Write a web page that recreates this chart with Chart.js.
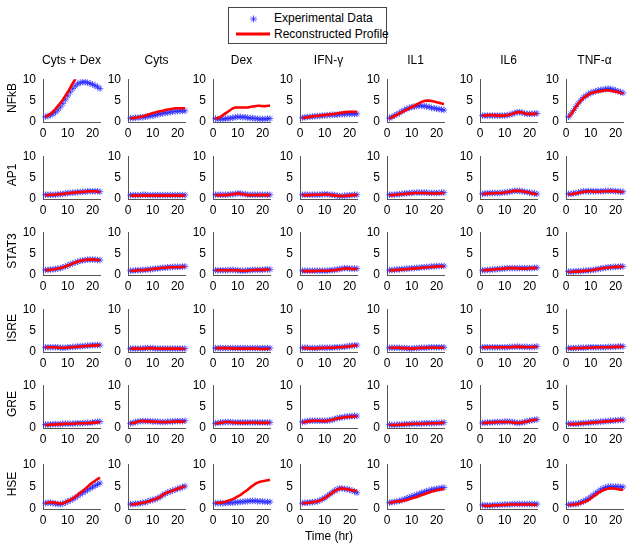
<!DOCTYPE html>
<html>
<head>
<meta charset="utf-8">
<script src="https://cdn.jsdelivr.net/npm/chart.js@4.4.0/dist/chart.umd.min.js"></script>
<style>
  body { margin: 0; background: #fff; font-family: "Liberation Sans", Arial, sans-serif; }
  #fig { position: relative; width: 634px; height: 550px; }
  #fig canvas { position: absolute; }
  .lbl { position: absolute; font-size: 12px; color: #000; white-space: nowrap; }
  .title { transform: translate(-50%, -50%); }
  .rowlbl { transform: translate(-50%, -50%) rotate(-90deg); }
  #legend { position: absolute; left: 228px; top: 7px; width: 157px; height: 35px; border: 1px solid #444; background: #fff; }
</style>
</head>
<body>
<div id="fig">
  <div id="legend">
    <svg width="50" height="35" style="position:absolute;left:0;top:0">
      <g stroke="rgba(30,30,255,0.75)" stroke-width="1">
        <line x1="21" y1="11" x2="28" y2="11"/><line x1="24.5" y1="7.5" x2="24.5" y2="14.5"/>
        <line x1="22" y1="8.5" x2="27" y2="13.5"/><line x1="27" y1="8.5" x2="22" y2="13.5"/>
      </g>
      <line x1="7" y1="26" x2="41" y2="26" stroke="#ff0000" stroke-width="3"/>
    </svg>
    <div class="lbl" style="left:45px;top:3px">Experimental Data</div>
    <div class="lbl" style="left:45px;top:19px">Reconstructed Profile</div>
  </div>
</div>
<script>
// time points (hr)
var hours = [1,2,3,4,5,6,7,8,9,10,11,12,13,14,15,16,17,18,19,20,21,22,23];
var conditions = ['Cyts + Dex', 'Cyts', 'Dex', 'IFN-\u03b3', 'IL1', 'IL6', 'TNF-\u03b1'];
var readouts = ['NFkB', 'AP1', 'STAT3', 'ISRE', 'GRE', 'HSE'];
var xTicks = [0, 10, 20];
var yTicks = [0, 5, 10];

// experimental data, one row per condition
var nfkbExp = [
  [1.2,1.4,1.6,1.9,2.3,2.8,3.5,4.3,5.2,6.1,7.0,7.8,8.4,8.9,9.2,9.3,9.3,9.2,9.0,8.8,8.5,8.2,7.8],
  [0.9,0.9,1.0,1.0,1.1,1.1,1.2,1.3,1.4,1.5,1.6,1.8,1.9,2.0,2.1,2.2,2.3,2.4,2.5,2.5,2.6,2.6,2.6],
  [0.8,0.7,0.7,0.7,0.8,0.8,0.9,1.0,1.1,1.2,1.2,1.1,1.1,1.0,0.9,0.9,0.8,0.8,0.7,0.7,0.7,0.8,0.8],
  [1.0,1.1,1.2,1.2,1.3,1.3,1.4,1.4,1.5,1.5,1.6,1.6,1.7,1.7,1.7,1.8,1.8,1.8,1.9,1.9,1.9,1.9,1.9],
  [0.9,1.2,1.5,1.8,2.1,2.5,2.8,3.1,3.3,3.5,3.6,3.7,3.8,3.8,3.7,3.6,3.5,3.3,3.2,3.1,3.0,2.9,2.8],
  [1.5,1.5,1.5,1.5,1.5,1.5,1.5,1.5,1.5,1.5,1.6,1.7,1.9,2.1,2.3,2.3,2.2,2.0,1.9,1.9,1.9,2.0,2.0],
  [1.2,1.9,2.7,3.6,4.4,5.1,5.7,6.1,6.5,6.8,7.0,7.2,7.4,7.5,7.6,7.7,7.8,7.7,7.6,7.4,7.2,7.0,6.8]
];
var nfkbRec = [
  [1.2,1.5,1.9,2.4,3.0,3.7,4.4,5.2,6.1,7.0,8.0,9.0,10.0,11.0,null,null,null,null,null,null,null,null,null],
  [0.8,0.9,1.0,1.1,1.2,1.3,1.5,1.7,1.9,2.1,2.2,2.4,2.5,2.6,2.8,2.9,3.0,3.1,3.2,3.2,3.2,3.2,3.2],
  [0.8,0.9,1.2,1.6,2.0,2.4,2.8,3.2,3.4,3.4,3.4,3.4,3.4,3.4,3.5,3.6,3.7,3.8,3.8,3.7,3.7,3.8,3.8],
  [0.9,1.0,1.1,1.2,1.3,1.4,1.4,1.5,1.6,1.6,1.7,1.8,1.8,1.9,2.0,2.1,2.2,2.3,2.3,2.4,2.4,2.4,2.3],
  [0.8,1.1,1.4,1.7,2.0,2.3,2.6,2.9,3.2,3.5,3.8,4.1,4.4,4.7,4.9,5.0,5.0,4.9,4.8,4.6,4.5,4.3,4.2],
  [1.5,1.5,1.6,1.6,1.6,1.6,1.5,1.5,1.5,1.5,1.6,1.7,1.9,2.1,2.3,2.3,2.2,2.0,1.9,1.9,1.9,1.9,1.9],
  [1.1,1.8,2.6,3.5,4.3,5.0,5.6,6.0,6.4,6.7,6.9,7.0,7.1,7.2,7.3,7.4,7.4,7.3,7.2,7.1,7.0,6.8,6.6]
];
var ap1Exp = [
  [1.0,1.0,1.0,1.0,1.0,1.1,1.1,1.2,1.3,1.4,1.4,1.5,1.5,1.6,1.6,1.7,1.7,1.8,1.8,1.8,1.8,1.8,1.7],
  [0.9,0.9,0.9,0.9,0.9,1.0,1.0,0.9,0.9,0.9,0.9,0.9,0.9,0.9,0.9,0.9,0.9,0.9,0.9,0.9,0.9,0.9,0.9],
  [1.0,1.0,1.0,1.0,1.0,1.0,1.1,1.1,1.2,1.3,1.3,1.2,1.1,1.0,1.0,1.0,1.0,1.0,1.0,1.0,1.0,1.0,1.0],
  [1.0,1.0,1.0,1.0,1.0,1.0,1.0,1.0,1.1,1.1,1.1,1.0,1.0,0.9,0.8,0.7,0.7,0.8,0.8,0.9,0.9,1.0,1.0],
  [1.0,1.0,1.0,1.1,1.1,1.2,1.3,1.3,1.4,1.4,1.5,1.5,1.5,1.5,1.5,1.5,1.4,1.4,1.4,1.4,1.4,1.5,1.5],
  [1.2,1.3,1.3,1.4,1.4,1.4,1.4,1.4,1.5,1.5,1.6,1.7,1.8,1.9,1.9,1.9,1.8,1.7,1.6,1.5,1.4,1.3,1.2],
  [1.2,1.2,1.3,1.4,1.5,1.7,1.8,1.8,1.8,1.8,1.8,1.8,1.8,1.8,1.8,1.9,1.9,1.9,1.9,1.8,1.8,1.7,1.7]
];
var ap1Rec = [
  [0.9,0.9,1.0,1.0,1.0,1.1,1.1,1.2,1.3,1.3,1.4,1.5,1.5,1.6,1.6,1.7,1.7,1.8,1.8,1.8,1.8,1.7,1.7],
  [0.8,0.8,0.8,0.8,0.8,0.8,0.8,0.8,0.8,0.8,0.8,0.8,0.8,0.8,0.8,0.8,0.8,0.8,0.8,0.8,0.8,0.8,0.8],
  [0.9,0.9,0.9,0.9,0.9,1.0,1.0,1.1,1.2,1.3,1.2,1.1,1.0,0.9,0.9,0.9,0.9,0.9,0.9,0.9,0.9,0.9,0.9],
  [0.9,0.9,0.9,0.9,1.0,1.0,1.0,1.0,1.0,1.1,1.0,1.0,0.9,0.8,0.8,0.7,0.7,0.7,0.8,0.8,0.9,0.9,1.0],
  [0.9,0.9,1.0,1.0,1.1,1.1,1.2,1.2,1.3,1.3,1.4,1.4,1.4,1.4,1.4,1.4,1.3,1.3,1.3,1.3,1.3,1.4,1.4],
  [1.1,1.2,1.3,1.3,1.3,1.4,1.4,1.4,1.4,1.5,1.6,1.7,1.8,1.9,1.9,1.9,1.8,1.7,1.6,1.5,1.3,1.2,1.1],
  [1.1,1.1,1.2,1.3,1.4,1.6,1.7,1.7,1.8,1.8,1.7,1.7,1.7,1.7,1.8,1.8,1.8,1.9,1.8,1.8,1.7,1.7,1.6]
];
var stat3Exp = [
  [1.2,1.2,1.3,1.3,1.4,1.5,1.6,1.8,2.0,2.2,2.5,2.7,2.9,3.1,3.3,3.4,3.5,3.6,3.6,3.6,3.6,3.5,3.5],
  [1.0,1.0,1.1,1.1,1.1,1.2,1.2,1.3,1.3,1.4,1.5,1.5,1.6,1.7,1.7,1.8,1.8,1.9,1.9,1.9,1.9,2.0,2.0],
  [1.1,1.1,1.1,1.1,1.1,1.1,1.2,1.2,1.1,1.1,1.0,1.0,1.0,1.1,1.1,1.2,1.2,1.2,1.2,1.2,1.3,1.3,1.3],
  [1.0,1.0,1.0,1.0,1.0,1.0,1.0,1.0,1.0,1.0,1.0,1.1,1.1,1.2,1.3,1.4,1.5,1.6,1.6,1.5,1.5,1.5,1.5],
  [1.1,1.2,1.2,1.3,1.3,1.4,1.4,1.5,1.5,1.6,1.6,1.7,1.7,1.8,1.8,1.9,1.9,2.0,2.0,2.1,2.1,2.1,2.1],
  [1.1,1.1,1.2,1.2,1.3,1.3,1.4,1.4,1.5,1.5,1.6,1.6,1.6,1.6,1.6,1.6,1.6,1.6,1.6,1.6,1.6,1.7,1.7],
  [0.8,0.8,0.8,0.9,0.9,0.9,1.0,1.0,1.1,1.1,1.2,1.3,1.4,1.5,1.6,1.7,1.8,1.8,1.9,1.9,1.9,2.0,2.0]
];
var stat3Rec = [
  [1.1,1.2,1.2,1.3,1.4,1.5,1.6,1.8,2.0,2.2,2.4,2.7,2.9,3.1,3.3,3.4,3.5,3.6,3.6,3.6,3.6,3.5,3.5],
  [1.0,1.0,1.0,1.1,1.1,1.1,1.2,1.2,1.3,1.4,1.5,1.5,1.6,1.7,1.7,1.8,1.8,1.8,1.8,1.8,1.8,1.9,1.9],
  [1.1,1.1,1.1,1.1,1.1,1.1,1.1,1.1,1.1,1.1,1.0,1.0,1.0,1.0,1.1,1.1,1.2,1.2,1.2,1.2,1.2,1.3,1.3],
  [0.9,0.9,0.9,0.9,0.9,0.9,1.0,1.0,1.0,1.0,1.0,1.0,1.1,1.1,1.2,1.3,1.4,1.5,1.5,1.5,1.4,1.4,1.4],
  [1.0,1.1,1.1,1.2,1.2,1.3,1.3,1.4,1.4,1.5,1.5,1.6,1.6,1.7,1.7,1.8,1.8,1.9,1.9,2.0,2.0,2.0,2.0],
  [1.1,1.1,1.2,1.2,1.3,1.3,1.4,1.4,1.5,1.5,1.6,1.6,1.6,1.6,1.6,1.5,1.5,1.5,1.5,1.6,1.6,1.6,1.7],
  [0.7,0.7,0.8,0.8,0.8,0.9,0.9,1.0,1.0,1.1,1.2,1.3,1.4,1.5,1.6,1.7,1.7,1.8,1.8,1.9,1.9,1.9,1.9]
];
var isreExp = [
  [1.1,1.1,1.1,1.1,1.1,1.1,1.0,1.0,1.0,1.1,1.1,1.2,1.2,1.3,1.3,1.4,1.4,1.5,1.5,1.6,1.6,1.6,1.6],
  [0.8,0.8,0.8,0.8,0.8,0.8,0.9,0.9,0.9,0.9,0.8,0.8,0.8,0.8,0.8,0.8,0.8,0.8,0.8,0.8,0.8,0.8,0.8],
  [0.9,0.9,0.9,0.9,0.9,0.9,0.9,0.9,0.9,0.9,0.9,0.9,0.9,0.9,0.9,0.9,0.9,0.9,0.9,0.9,0.9,0.9,0.9],
  [1.0,1.0,1.0,0.9,0.9,0.9,0.9,1.0,1.0,1.0,1.0,1.0,1.0,1.1,1.1,1.1,1.2,1.2,1.3,1.4,1.5,1.5,1.6],
  [1.0,1.0,1.0,1.0,1.0,0.9,0.9,0.9,0.8,0.8,0.9,0.9,1.0,1.0,1.0,1.0,1.1,1.1,1.1,1.1,1.1,1.1,1.1],
  [1.1,1.1,1.1,1.1,1.1,1.1,1.1,1.1,1.1,1.1,1.1,1.2,1.2,1.2,1.3,1.2,1.2,1.2,1.2,1.1,1.2,1.2,1.3],
  [0.9,0.9,0.9,0.9,1.0,1.0,1.0,1.0,1.1,1.1,1.1,1.1,1.1,1.1,1.1,1.1,1.2,1.2,1.2,1.2,1.3,1.3,1.3]
];
var isreRec = [
  [1.0,1.1,1.1,1.1,1.1,1.0,1.0,1.0,1.0,1.0,1.1,1.1,1.2,1.2,1.3,1.3,1.4,1.4,1.5,1.5,1.5,1.6,1.6],
  [0.8,0.8,0.8,0.8,0.8,0.8,0.8,0.9,0.9,0.9,0.8,0.8,0.8,0.8,0.8,0.8,0.8,0.8,0.8,0.8,0.8,0.7,0.7],
  [0.9,0.9,0.9,0.9,0.9,0.9,0.9,0.8,0.8,0.8,0.8,0.8,0.8,0.8,0.8,0.8,0.8,0.8,0.7,0.7,0.7,0.7,0.7],
  [0.9,0.9,0.9,0.9,0.8,0.8,0.9,0.9,0.9,1.0,1.0,1.0,1.0,1.0,1.1,1.1,1.1,1.2,1.3,1.3,1.4,1.5,1.5],
  [1.0,1.0,1.0,1.0,1.0,0.9,0.9,0.9,0.8,0.8,0.8,0.9,0.9,1.0,1.0,1.0,1.0,1.0,1.0,1.0,1.0,1.0,1.0],
  [1.0,1.1,1.1,1.1,1.1,1.1,1.1,1.1,1.1,1.1,1.1,1.1,1.2,1.2,1.2,1.2,1.2,1.1,1.1,1.1,1.1,1.2,1.2],
  [0.8,0.8,0.9,0.9,0.9,0.9,1.0,1.0,1.0,1.0,1.0,1.1,1.1,1.1,1.1,1.1,1.1,1.1,1.2,1.2,1.2,1.2,1.3]
];
var greExp = [
  [0.8,0.8,0.8,0.9,0.9,0.9,0.9,1.0,1.0,1.0,1.0,1.0,1.1,1.1,1.1,1.1,1.2,1.2,1.2,1.3,1.4,1.5,1.5],
  [1.1,1.2,1.4,1.5,1.6,1.6,1.6,1.6,1.6,1.5,1.5,1.5,1.4,1.4,1.4,1.5,1.5,1.5,1.6,1.6,1.6,1.6,1.7],
  [1.1,1.2,1.3,1.3,1.4,1.4,1.4,1.3,1.3,1.3,1.3,1.3,1.3,1.3,1.3,1.3,1.3,1.3,1.3,1.3,1.3,1.3,1.3],
  [1.4,1.5,1.6,1.7,1.7,1.7,1.7,1.7,1.7,1.7,1.7,1.8,1.9,2.1,2.3,2.4,2.5,2.6,2.7,2.7,2.8,2.8,2.8],
  [0.8,0.7,0.7,0.8,0.8,0.8,0.9,0.9,0.9,1.0,1.0,1.0,1.0,1.0,1.1,1.1,1.1,1.1,1.1,1.2,1.2,1.2,1.3],
  [1.2,1.2,1.3,1.3,1.3,1.4,1.4,1.4,1.4,1.5,1.5,1.5,1.4,1.3,1.2,1.2,1.3,1.4,1.6,1.7,1.8,1.9,2.0],
  [1.0,1.0,1.0,1.0,1.0,1.1,1.1,1.2,1.2,1.3,1.3,1.4,1.4,1.5,1.5,1.6,1.6,1.7,1.7,1.8,1.8,1.9,1.9]
];
var greRec = [
  [0.7,0.7,0.8,0.8,0.8,0.9,0.9,0.9,1.0,1.0,1.0,1.0,1.0,1.1,1.1,1.1,1.1,1.1,1.2,1.2,1.3,1.3,1.4],
  [1.0,1.2,1.3,1.5,1.6,1.6,1.6,1.5,1.5,1.5,1.5,1.4,1.4,1.4,1.4,1.4,1.4,1.5,1.5,1.5,1.5,1.5,1.5],
  [1.0,1.1,1.2,1.3,1.4,1.4,1.4,1.3,1.3,1.2,1.2,1.2,1.2,1.2,1.3,1.3,1.3,1.2,1.2,1.2,1.2,1.2,1.2],
  [1.3,1.4,1.5,1.6,1.7,1.7,1.7,1.7,1.6,1.6,1.7,1.8,1.9,2.1,2.2,2.3,2.4,2.5,2.6,2.6,2.6,2.7,2.7],
  [0.8,0.7,0.7,0.7,0.8,0.8,0.8,0.9,0.9,0.9,1.0,1.0,1.0,1.0,1.0,1.0,1.1,1.1,1.1,1.1,1.1,1.2,1.2],
  [1.1,1.2,1.2,1.3,1.3,1.3,1.4,1.4,1.4,1.4,1.4,1.4,1.3,1.2,1.2,1.2,1.3,1.4,1.5,1.7,1.8,1.9,2.0],
  [0.9,0.9,0.9,0.9,1.0,1.0,1.1,1.1,1.2,1.2,1.3,1.3,1.4,1.4,1.5,1.5,1.6,1.6,1.7,1.7,1.8,1.8,1.9]
];
var hseExp = [
  [1.3,1.4,1.4,1.3,1.2,1.1,1.1,1.2,1.4,1.7,1.9,2.2,2.5,2.9,3.3,3.6,3.9,4.3,4.6,4.9,5.2,5.5,5.8],
  [1.1,1.1,1.2,1.2,1.3,1.4,1.5,1.7,1.9,2.0,2.2,2.4,2.7,3.1,3.4,3.7,3.9,4.1,4.3,4.5,4.7,4.9,5.1],
  [1.3,1.3,1.3,1.3,1.3,1.4,1.4,1.4,1.5,1.5,1.6,1.6,1.7,1.7,1.8,1.8,1.8,1.7,1.7,1.7,1.6,1.6,1.6],
  [1.3,1.4,1.4,1.5,1.5,1.6,1.7,1.9,2.2,2.5,2.9,3.3,3.7,4.1,4.4,4.6,4.6,4.5,4.4,4.3,4.1,3.9,3.6],
  [1.4,1.5,1.6,1.7,1.8,2.0,2.2,2.4,2.6,2.8,3.0,3.2,3.4,3.6,3.8,4.0,4.1,4.3,4.4,4.5,4.6,4.7,4.8],
  [0.9,0.8,0.8,0.8,0.8,0.9,0.9,0.9,1.0,1.0,1.0,1.0,1.1,1.1,1.1,1.1,1.1,1.1,1.1,1.1,1.1,1.1,1.1],
  [1.0,1.0,1.1,1.1,1.3,1.5,1.7,2.0,2.3,2.7,3.1,3.5,3.9,4.3,4.6,4.8,5.0,5.0,5.0,5.0,5.0,4.9,4.9]
];
var hseRec = [
  [1.2,1.4,1.5,1.5,1.4,1.3,1.2,1.3,1.5,1.8,2.0,2.3,2.7,3.1,3.6,4.0,4.5,5.0,5.5,5.9,6.3,6.7,7.0],
  [1.0,1.0,1.1,1.2,1.3,1.4,1.5,1.6,1.8,2.0,2.2,2.4,2.7,3.1,3.5,3.7,3.9,4.1,4.3,4.5,4.7,4.9,5.1],
  [1.3,1.4,1.4,1.5,1.6,1.8,2.0,2.2,2.5,2.8,3.1,3.5,3.9,4.3,4.8,5.2,5.6,5.9,6.1,6.2,6.3,6.4,6.5],
  [1.2,1.3,1.4,1.4,1.5,1.6,1.7,1.9,2.1,2.4,2.8,3.2,3.6,4.0,4.3,4.5,4.6,4.5,4.4,4.3,4.2,4.1,4.0],
  [1.3,1.5,1.6,1.7,1.7,1.8,1.9,2.0,2.2,2.4,2.5,2.7,2.9,3.1,3.3,3.5,3.7,3.9,4.0,4.2,4.3,4.4,4.4],
  [0.8,0.7,0.7,0.7,0.8,0.8,0.8,0.9,0.9,0.9,1.0,1.0,1.0,1.0,1.0,1.0,1.0,1.0,1.0,1.0,1.0,0.9,0.9],
  [0.9,0.9,1.0,1.0,1.1,1.3,1.5,1.7,2.0,2.4,2.8,3.2,3.6,3.9,4.2,4.4,4.5,4.6,4.6,4.5,4.4,4.3,4.3]
];

var expData = [nfkbExp, ap1Exp, stat3Exp, isreExp, greExp, hseExp];
var recData = [nfkbRec, ap1Rec, stat3Rec, isreRec, greRec, hseRec];

// layout of the grid (pixel position of each panel's axes)
var colX = [43, 128, 213, 300, 387, 480, 566];
var rowTop = [73, 150, 226, 303, 379, 458];
var rowH = [49, 49, 49, 49, 49, 51];
var plotW = 57;
var padL = 30, padT = 8, padR = 8, padB = 20;

var fig = document.getElementById('fig');

function addLabel(text, x, y, cls) {
  var d = document.createElement('div');
  d.className = 'lbl ' + cls;
  d.style.left = x + 'px';
  d.style.top = y + 'px';
  d.textContent = text;
  fig.appendChild(d);
}

function toPoints(vals) {
  return hours.map(function(h, i) { return { x: h, y: vals[i] }; });
}

function panel(r, c) {
  var cv = document.createElement('canvas');
  cv.width = padL + plotW + padR;
  cv.height = padT + rowH[r] + padB;
  cv.style.left = (colX[c] - padL) + 'px';
  cv.style.top = (rowTop[r] - padT) + 'px';
  fig.appendChild(cv);

  var tickFont = { family: '"Liberation Sans", Arial, sans-serif', size: 12 };
  new Chart(cv.getContext('2d'), {
    type: 'line',
    data: {
      datasets: [
        {
          label: 'Reconstructed Profile',
          data: toPoints(recData[r][c]),
          borderColor: '#ff0000',
          borderWidth: 2.6,
          pointRadius: 0,
          tension: 0,
          clip: { left: 4, top: 0, right: 4, bottom: 4 }
        },
        {
          label: 'Experimental Data',
          data: toPoints(expData[r][c]),
          showLine: false,
          pointStyle: 'star',
          pointRadius: 3.3,
          borderWidth: 1,
          borderColor: 'rgba(30,30,255,0.7)',
          backgroundColor: 'rgba(30,30,255,0.7)',
          clip: { left: 5, top: 5, right: 5, bottom: 5 }
        }
      ]
    },
    options: {
      responsive: false,
      animation: false,
      events: [],
      layout: { padding: { top: padT, right: padR, left: 0, bottom: 0 } },
      plugins: { legend: { display: false }, tooltip: { enabled: false } },
      scales: {
        x: {
          type: 'linear', min: 0, max: 23,
          grid: { display: false, drawTicks: false },
          border: { display: true, color: '#555', width: 1 },
          afterBuildTicks: function(s) { s.ticks = xTicks.map(function(v) { return { value: v }; }); },
          afterFit: function(s) { s.height = padB; },
          ticks: { color: '#000', font: tickFont, padding: 4, maxRotation: 0 }
        },
        y: {
          min: 0, max: 10,
          grid: { display: false, drawTicks: false },
          border: { display: true, color: '#555', width: 1 },
          afterBuildTicks: function(s) { s.ticks = yTicks.map(function(v) { return { value: v }; }); },
          afterFit: function(s) { s.width = padL; },
          ticks: { color: '#000', font: tickFont, padding: 7 }
        }
      }
    }
  });
}

for (var r = 0; r < readouts.length; r++) {
  for (var c = 0; c < conditions.length; c++) {
    panel(r, c);
  }
  addLabel(readouts[r], 12, rowTop[r] + rowH[r] / 2, 'rowlbl');
}
for (var c = 0; c < conditions.length; c++) {
  addLabel(conditions[c], colX[c] + plotW / 2, 60, 'title');
}
addLabel('Time (hr)', 329, 536, 'title');
</script>
</body>
</html>
